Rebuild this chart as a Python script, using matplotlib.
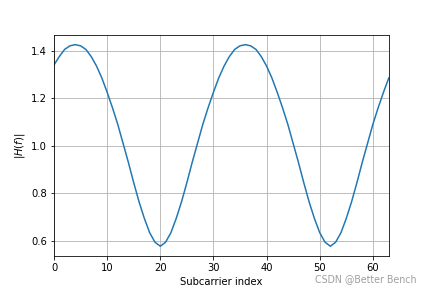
import matplotlib
matplotlib.use('Agg')
import matplotlib.pyplot as plt

# |H(f)|, one value per subcarrier
subcarriers = list(range(64))
first_half = [1.34, 1.375, 1.405, 1.42, 1.425, 1.42, 1.405, 1.375,
              1.335, 1.285, 1.225, 1.16, 1.09, 1.01, 0.93, 0.845,
              0.765, 0.695, 0.635, 0.595, 0.578, 0.595, 0.635, 0.695,
              0.765, 0.845, 0.93, 1.01, 1.09, 1.16, 1.225, 1.285]
second_half = [1.335, 1.375, 1.405, 1.42, 1.425, 1.42, 1.405, 1.375,
               1.335, 1.285, 1.225, 1.16, 1.09, 1.01, 0.93, 0.845,
               0.765, 0.695, 0.635, 0.595, 0.578, 0.595, 0.635, 0.695,
               0.765, 0.845, 0.93, 1.01, 1.09, 1.16, 1.225, 1.285]
magnitude = first_half + second_half

fig = plt.figure(figsize=(6, 4), dpi=72)
ax = fig.add_subplot(1, 1, 1)
ax.plot(subcarriers, magnitude)
ax.set_xlim(0, 63)
ax.set_xlabel('Subcarrier index')
ax.set_ylabel('$|H(f)|$')
ax.grid(True)

# watermark, sits just below the x tick labels
fig.text(0.965, 0.03, 'CSDN @Better Bench', ha='right', va='center',
         fontsize=9.5, color='#a0a0a0')

fig.savefig('out.png', dpi=72)
